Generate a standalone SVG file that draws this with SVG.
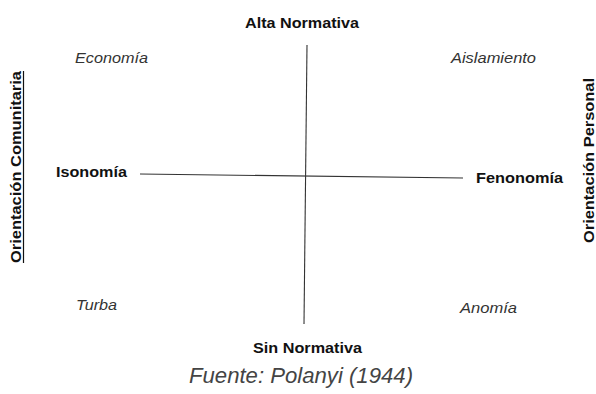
<svg xmlns="http://www.w3.org/2000/svg" width="596" height="394" viewBox="0 0 596 394">
<style>
.b{font-family:"Liberation Sans",Arial,sans-serif;font-weight:bold;font-size:15px;fill:#111}
.i{font-family:"Liberation Sans",Arial,sans-serif;font-style:italic;font-size:15px;fill:#333}
.ax{stroke:#333;stroke-width:1.1;fill:none}
</style>
<rect width="596" height="394" fill="#fff"/>
<g id="connectors">
<line class="ax" x1="307" y1="45" x2="304" y2="324"/>
<line class="ax" x1="140" y1="174" x2="463" y2="178"/>
</g>
<g id="alta-normativa"><text class="b" x="245" y="28" textLength="114" lengthAdjust="spacingAndGlyphs">Alta Normativa</text></g>
<g id="sin-normativa"><text class="b" x="253" y="353" textLength="109" lengthAdjust="spacingAndGlyphs">Sin Normativa</text></g>
<g id="isonomia"><text class="b" x="56" y="177" textLength="71" lengthAdjust="spacingAndGlyphs">Isonomía</text></g>
<g id="fenonomia"><text class="b" x="476" y="183" textLength="87" lengthAdjust="spacingAndGlyphs">Fenonomía</text></g>
<g id="economia"><text class="i" x="75" y="63" textLength="73" lengthAdjust="spacingAndGlyphs">Economía</text></g>
<g id="aislamiento"><text class="i" x="451" y="63" textLength="85" lengthAdjust="spacingAndGlyphs">Aislamiento</text></g>
<g id="turba"><text class="i" x="76" y="310" textLength="41" lengthAdjust="spacingAndGlyphs">Turba</text></g>
<g id="anomia"><text class="i" x="460" y="313" textLength="57" lengthAdjust="spacingAndGlyphs">Anomía</text></g>
<g id="orientacion-comunitaria">
<text class="b" transform="translate(21,263) rotate(-90)" x="0" y="0" textLength="192" lengthAdjust="spacingAndGlyphs">Orientación Comunitaria</text>
<line x1="23.5" y1="263" x2="23.5" y2="71" stroke="#111" stroke-width="1.2"/>
</g>
<g id="orientacion-personal"><text class="b" transform="translate(594,243) rotate(-90)" x="0" y="0" textLength="165" lengthAdjust="spacingAndGlyphs">Orientación Personal</text></g>
<g id="fuente"><text x="189" y="383" font-family="'Liberation Sans',Arial,sans-serif" font-style="italic" font-size="22" fill="#444" textLength="224" lengthAdjust="spacingAndGlyphs">Fuente: Polanyi (1944)</text></g>
</svg>
